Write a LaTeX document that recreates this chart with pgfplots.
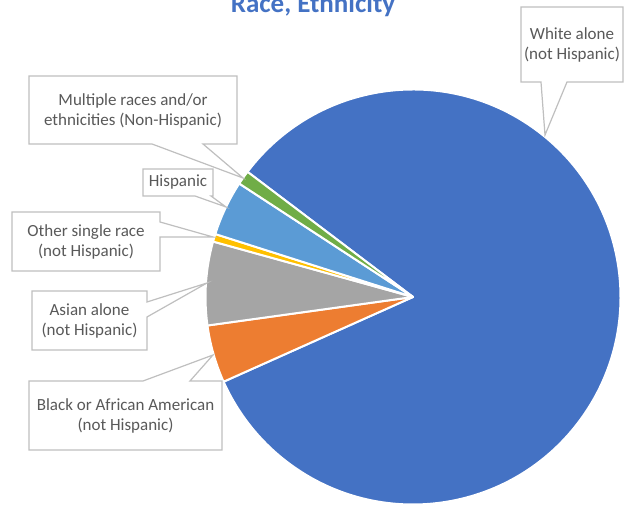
\documentclass[border=0pt]{standalone}
\usepackage{pgfplots}
\pgfplotsset{compat=1.18}
\usepackage{fontspec}
\setmainfont{Carlito}
\definecolor{cWhite}{HTML}{4472C4}
\definecolor{cBlack}{HTML}{ED7D31}
\definecolor{cAsian}{HTML}{A5A5A5}
\definecolor{cOther}{HTML}{FFC000}
\definecolor{cHisp}{HTML}{5B9BD5}
\definecolor{cMulti}{HTML}{70AD47}
\definecolor{txt}{HTML}{595959}
\definecolor{boxline}{HTML}{BFBFBF}
% #1 cumulative percent before the slice, #2 percent of the slice, #3 colour
\newcommand{\pieslice}[3]{%
  \pgfmathsetmacro\sa{142.9-3.6*#1}%
  \pgfmathsetmacro\ea{142.9-3.6*(#1+#2)}%
  \edef\temp{\noexpand\fill[#3, draw=white, line width=1.5pt, line join=round]
    (axis cs:413,209) -- ++(\sa:155.625pt)
    arc[start angle=\sa, end angle=\ea, radius=155.625pt] -- cycle;}%
  \temp
}
\begin{document}
\begin{tikzpicture}
\begin{axis}[
  hide axis, x=0.75pt, y=0.75pt,
  xmin=0, xmax=637, ymin=0, ymax=506,
  clip=false,
]
% Race, Ethnicity shares (percent): White 83.0, Black 4.5, Asian 6.5, Other 0.6, Hispanic 4.3, Multiple 1.1
\pieslice{0}{83.0}{cWhite}
\pieslice{83.0}{4.5}{cBlack}
\pieslice{87.5}{6.5}{cAsian}
\pieslice{94.0}{0.6}{cOther}
\pieslice{94.6}{4.3}{cHisp}
\pieslice{98.9}{1.1}{cMulti}

\coordinate (sw) at (axis cs:0,0);
\coordinate (ne) at (axis cs:637,506);

\tikzset{callout/.style={fill=white, draw=boxline, line width=0.9pt, line join=miter}}
\tikzset{lbl/.style={text=txt, font=\fontsize{12.75pt}{15pt}\selectfont, align=center, inner sep=0pt}}

% White alone
\draw[callout] (axis cs:521,499) -- (axis cs:623,499) -- (axis cs:623,424) -- (axis cs:567,424)
  -- (axis cs:545,371) -- (axis cs:541,424) -- (axis cs:521,424) -- cycle;
\node[lbl] at (axis cs:572,461.5) {White alone\\(not Hispanic)};
% Multiple
\draw[callout] (axis cs:29,430) -- (axis cs:237,430) -- (axis cs:237,362) -- (axis cs:203,362)
  -- (axis cs:243,328) -- (axis cs:152,362) -- (axis cs:29,362) -- cycle;
\node[lbl] at (axis cs:133,395) {Multiple races and/or\\ethnicities (Non-Hispanic)};
% Hispanic
\draw[callout] (axis cs:143,337) -- (axis cs:213,337) -- (axis cs:213,310) -- (axis cs:211,310)
  -- (axis cs:226,299) -- (axis cs:195,310) -- (axis cs:143,310) -- cycle;
\node[lbl] at (axis cs:178,323.5) {Hispanic};
% Other single race
\draw[callout] (axis cs:12,294) -- (axis cs:160,294) -- (axis cs:160,284) -- (axis cs:213,269)
  -- (axis cs:160,269) -- (axis cs:160,235) -- (axis cs:12,235) -- cycle;
\node[lbl] at (axis cs:86,264) {Other single race\\(not Hispanic)};
% Asian alone
\draw[callout] (axis cs:32,215) -- (axis cs:147,215) -- (axis cs:147,204) -- (axis cs:207,223)
  -- (axis cs:147,189) -- (axis cs:147,156) -- (axis cs:32,156) -- cycle;
\node[lbl] at (axis cs:89.5,185) {Asian alone\\(not Hispanic)};
% Black
\draw[callout] (axis cs:29,125) -- (axis cs:143,125) -- (axis cs:213,151) -- (axis cs:190,125)
  -- (axis cs:222,125) -- (axis cs:222,56) -- (axis cs:29,56) -- cycle;
\node[lbl] at (axis cs:125.5,90) {Black or African American\\(not Hispanic)};

% Title (cut off at the top as in the reference)
\node[anchor=base, text=cWhite, font=\fontsize{20.25pt}{24pt}\selectfont\bfseries, inner sep=0pt]
  at (axis cs:313,493) {Race, Ethnicity};
\end{axis}
\pgfresetboundingbox
\path[use as bounding box] (sw) rectangle (ne);
\end{tikzpicture}
\end{document}
